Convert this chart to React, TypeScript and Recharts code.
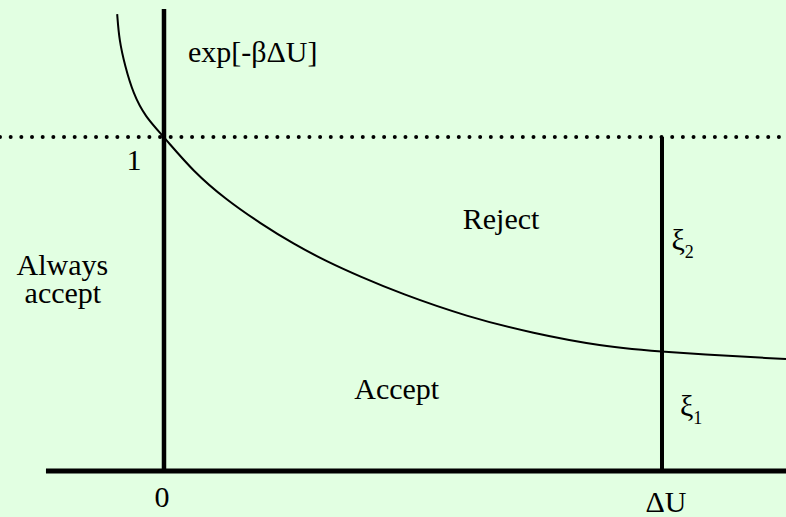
import { ComposedChart, Line, XAxis, YAxis, ReferenceLine, ReferenceDot } from "recharts";

// Acceptance curve exp[-beta dU], x in units of dU, y in probability units
const curveX = [-0.094, -0.09, -0.078, -0.062, -0.038, 0, 0.059, 0.126, 0.193, 0.26, 0.327, 0.394, 0.474, 0.608, 0.742, 0.876, 1.0, 1.249];
const curveY = [1.368, 1.29, 1.211, 1.131, 1.061, 1.0, 0.896, 0.811, 0.742, 0.68, 0.627, 0.582, 0.532, 0.462, 0.412, 0.374, 0.356, 0.335];

const xDomain = [-0.3293, 1.249];
const yDomain = [-0.1377, 1.4102];

const stepX = 1; // position of dU
const unitY = 1; // probability 1
const axisStart = -0.237;
const axisTop = 1.383;

const labelText = ["exp[-βΔU]", "1", "Reject", "Always", "accept", "Accept", "0", "ΔU"];
const labelX = [0.048, -0.06, 0.6, -0.204, -0.203, 0.382, -0.004, 1.008];
const labelY = [1.225, 0.901, 0.725, 0.587, 0.503, 0.216, -0.108, -0.124];
const labelAnchor = ["start", "middle", "start", "middle", "middle", "start", "middle", "middle"];

const xiSub = ["2", "1"];
const xiX = [1.019, 1.036];
const xiY = [0.662, 0.165];

const data = curveX.map((x, i) => ({ x, y: curveY[i] }));

const FONT =
  '"Liberation Serif", "Times New Roman", Times, Tinos, "Noto Serif", "DejaVu Serif", "Nimbus Roman", FreeSerif, serif';

export default function App() {
  return (
    <div
      style={{
        position: "absolute",
        left: 0,
        top: 0,
        width: 786,
        height: 517,
        background: "#e2ffe2",
        fontFamily: FONT,
      }}
    >
      <ComposedChart width={786} height={517} data={data} margin={{ top: 0, right: 0, bottom: 0, left: 0 }}>
        <XAxis type="number" dataKey="x" domain={xDomain} allowDataOverflow hide />
        <YAxis type="number" domain={yDomain} allowDataOverflow hide />
        <ReferenceLine
          y={unitY}
          stroke="#000"
          strokeWidth={4}
          strokeDasharray="0 10.67"
          strokeLinecap="round"
          ifOverflow="visible"
        />
        <ReferenceLine
          segment={[{ x: axisStart, y: 0 }, { x: xDomain[1], y: 0 }]}
          stroke="#000"
          strokeWidth={5}
          ifOverflow="visible"
        />
        <ReferenceLine
          segment={[{ x: 0, y: 0 }, { x: 0, y: axisTop }]}
          stroke="#000"
          strokeWidth={4.5}
          ifOverflow="visible"
        />
        <ReferenceLine
          segment={[{ x: stepX, y: 0 }, { x: stepX, y: unitY }]}
          stroke="#000"
          strokeWidth={4}
          ifOverflow="visible"
        />
        <Line
          type="basis"
          dataKey="y"
          stroke="#000"
          strokeWidth={2}
          dot={false}
          activeDot={false}
          isAnimationActive={false}
        />
        {labelText.map((t, i) => (
          <ReferenceDot
            key={t + i}
            x={labelX[i]}
            y={labelY[i]}
            r={0}
            fill="none"
            stroke="none"
            ifOverflow="visible"
            label={(p: any) => (
              <text
                x={p.viewBox.x}
                y={p.viewBox.y}
                textAnchor={labelAnchor[i] as any}
                style={{ fontFamily: FONT, fontSize: 30 }}
                fill="#000"
              >
                {t}
              </text>
            )}
          />
        ))}
        {xiSub.map((s, i) => (
          <ReferenceDot
            key={"xi" + s}
            x={xiX[i]}
            y={xiY[i]}
            r={0}
            fill="none"
            stroke="none"
            ifOverflow="visible"
            label={(p: any) => (
              <text x={p.viewBox.x} y={p.viewBox.y} style={{ fontFamily: FONT, fontSize: 30 }} fill="#000">
                ξ
                <tspan style={{ fontSize: 18 }} dy={8}>
                  {s}
                </tspan>
              </text>
            )}
          />
        ))}
      </ComposedChart>
    </div>
  );
}
